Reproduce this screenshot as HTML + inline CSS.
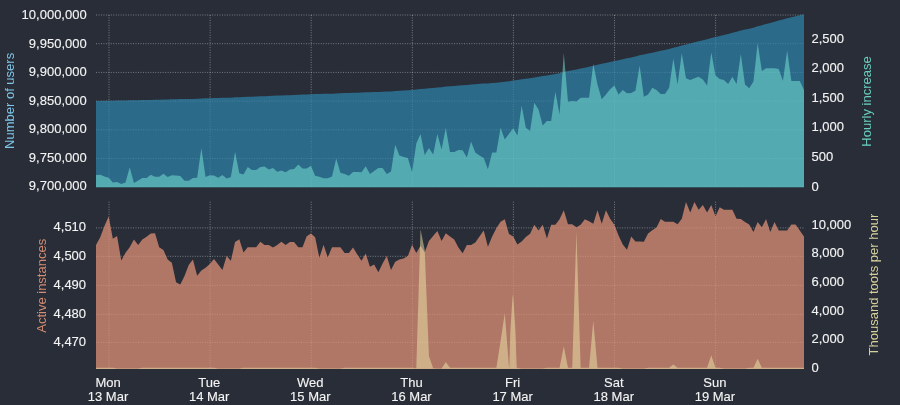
<!DOCTYPE html>
<html lang="en"><head><meta charset="utf-8"><title>Mastodon user count</title>
<style>
html,body{margin:0;padding:0;background:#282d37;}
body{width:900px;height:405px;overflow:hidden;}
svg{display:block;}
text{font-family:"Liberation Sans", Arial, sans-serif;font-size:13px;fill:#f4f4f4;stroke:#f4f4f4;stroke-width:0.12px;}
.g line{stroke:#ffffff;stroke-opacity:0.38;stroke-width:1;stroke-dasharray:1 1.47;}
</style></head><body>
<svg width="900" height="405" viewBox="0 0 900 405">
<rect x="0" y="0" width="900" height="405" fill="#282d37"/>
<defs><clipPath id="ct"><rect x="96.0" y="0" width="708.00" height="187.6"/></clipPath><clipPath id="cb"><rect x="96.0" y="201.7" width="708.00" height="167.30"/></clipPath></defs>
<g class="g">
<line x1="96.0" y1="15.00" x2="804.00" y2="15.00"/>
<line x1="96.0" y1="43.70" x2="804.00" y2="43.70"/>
<line x1="96.0" y1="72.40" x2="804.00" y2="72.40"/>
<line x1="96.0" y1="101.10" x2="804.00" y2="101.10"/>
<line x1="96.0" y1="129.80" x2="804.00" y2="129.80"/>
<line x1="96.0" y1="158.50" x2="804.00" y2="158.50"/>
<line x1="96.0" y1="186.1" x2="804.00" y2="186.1"/>
<line x1="109.00" y1="15.0" x2="109.00" y2="187.6"/>
<line x1="109.00" y1="201.7" x2="109.00" y2="369.0"/>
<line x1="210.10" y1="15.0" x2="210.10" y2="187.6"/>
<line x1="210.10" y1="201.7" x2="210.10" y2="369.0"/>
<line x1="311.20" y1="15.0" x2="311.20" y2="187.6"/>
<line x1="311.20" y1="201.7" x2="311.20" y2="369.0"/>
<line x1="412.30" y1="15.0" x2="412.30" y2="187.6"/>
<line x1="412.30" y1="201.7" x2="412.30" y2="369.0"/>
<line x1="513.40" y1="15.0" x2="513.40" y2="187.6"/>
<line x1="513.40" y1="201.7" x2="513.40" y2="369.0"/>
<line x1="614.50" y1="15.0" x2="614.50" y2="187.6"/>
<line x1="614.50" y1="201.7" x2="614.50" y2="369.0"/>
<line x1="715.60" y1="15.0" x2="715.60" y2="187.6"/>
<line x1="715.60" y1="201.7" x2="715.60" y2="369.0"/>
<line x1="96.0" y1="227.90" x2="804.00" y2="227.90"/>
<line x1="96.0" y1="256.30" x2="804.00" y2="256.30"/>
<line x1="96.0" y1="285.30" x2="804.00" y2="285.30"/>
<line x1="96.0" y1="314.30" x2="804.00" y2="314.30"/>
<line x1="96.0" y1="342.30" x2="804.00" y2="342.30"/>
</g>
<polygon clip-path="url(#ct)" fill="#2e85ad" fill-opacity="0.7" points="96.00,187.6 96.00,101.00 100.21,100.88 104.43,100.77 108.64,100.68 112.86,100.63 117.07,100.58 121.29,100.54 125.50,100.49 129.71,100.30 133.93,100.26 138.14,100.19 142.36,100.10 146.57,100.00 150.79,99.88 155.00,99.78 159.21,99.68 163.43,99.54 167.64,99.44 171.86,99.33 176.07,99.21 180.29,99.10 184.50,99.03 188.71,98.97 192.93,98.88 197.14,98.78 201.36,98.40 205.57,98.30 209.79,98.19 214.00,98.07 218.21,97.97 222.43,97.85 226.64,97.77 230.86,97.67 235.07,97.32 239.29,97.19 243.50,97.06 247.71,96.87 251.93,96.70 256.14,96.53 260.36,96.34 264.57,96.13 268.79,95.96 273.00,95.77 277.21,95.62 281.43,95.46 285.64,95.31 289.86,95.14 294.07,94.96 298.29,94.74 302.50,94.56 306.71,94.38 310.93,94.17 315.14,94.06 319.36,93.95 323.57,93.87 327.79,93.78 332.00,93.67 336.22,93.39 340.43,93.25 344.64,93.12 348.86,93.01 353.07,92.86 357.29,92.71 361.50,92.56 365.72,92.36 369.93,92.23 374.14,92.07 378.36,91.89 382.57,91.70 386.79,91.57 391.00,91.42 395.22,91.01 399.43,90.70 403.64,90.41 407.86,90.13 412.07,89.98 416.29,89.56 420.50,89.05 424.72,88.74 428.93,88.36 433.14,88.04 437.36,87.53 441.57,87.17 445.79,86.60 450.00,86.26 454.22,85.92 458.43,85.56 462.64,85.20 466.86,84.92 471.07,84.48 475.29,84.14 479.50,83.84 483.72,83.55 487.93,83.38 492.14,83.04 496.36,82.71 500.57,82.14 504.79,81.68 509.00,81.17 513.22,80.60 517.43,80.11 521.64,79.33 525.86,78.75 530.07,78.22 534.29,77.41 538.50,76.66 542.72,76.07 546.93,75.44 551.14,74.80 555.36,73.89 559.57,73.19 563.79,71.90 568.00,71.09 572.22,70.26 576.43,69.44 580.64,68.59 584.86,67.73 589.07,66.87 593.29,65.69 597.50,64.71 601.72,63.87 605.93,62.98 610.14,62.04 614.36,61.07 618.57,60.18 622.79,59.25 627.00,58.35 631.22,57.44 635.43,56.52 639.64,55.36 643.86,54.49 648.07,53.60 652.29,52.65 656.50,51.72 660.72,50.83 664.93,49.93 669.14,48.98 673.36,47.75 677.57,46.77 681.79,45.49 686.00,44.44 690.22,43.42 694.43,42.37 698.64,41.32 702.86,40.29 707.07,39.31 711.29,38.02 715.50,36.96 719.72,35.92 723.93,34.89 728.14,33.90 732.36,32.85 736.57,31.86 740.79,30.59 745.00,29.60 749.22,28.65 753.43,27.64 757.65,26.26 761.86,25.15 766.07,24.01 770.29,22.88 774.50,21.74 778.72,20.60 782.93,19.59 787.15,18.28 791.36,17.26 795.57,16.25 799.79,15.23 804.00,14.30 804.00,187.6"/>
<polygon clip-path="url(#ct)" fill="#7ae9d8" fill-opacity="0.5" points="96.00,187.6 96.00,175.00 100.21,174.80 104.43,176.50 108.64,177.80 112.86,182.50 117.07,182.00 121.29,184.00 125.50,182.50 129.71,167.20 133.93,183.00 138.14,180.50 142.36,178.00 146.57,178.00 150.79,174.80 155.00,176.80 159.21,176.80 163.43,173.80 167.64,177.00 171.86,175.20 176.07,175.40 180.29,176.00 184.50,180.80 188.71,180.70 192.93,178.00 197.14,177.70 201.36,148.00 205.57,177.00 209.79,175.20 214.00,175.40 218.21,177.70 222.43,175.00 226.64,178.50 230.86,177.00 235.07,151.70 239.29,173.30 243.50,174.60 247.71,167.00 251.93,170.00 256.14,170.00 260.36,167.00 264.57,166.40 268.79,169.50 273.00,168.10 277.21,171.70 281.43,170.60 285.64,172.30 289.86,169.40 294.07,169.00 298.29,164.40 302.50,168.40 306.71,168.60 310.93,165.70 315.14,175.80 319.36,176.80 323.57,178.30 327.79,178.30 332.00,176.40 336.22,158.50 340.43,172.70 344.64,174.00 348.86,175.80 353.07,172.10 357.29,171.90 361.50,172.30 365.72,166.20 369.93,174.00 374.14,171.00 378.36,168.00 382.57,168.00 386.79,174.10 391.00,171.40 395.22,144.80 399.43,155.60 403.64,157.00 407.86,158.10 412.07,172.00 416.29,143.40 420.50,134.10 424.72,155.00 428.93,147.90 433.14,154.50 437.36,134.10 441.57,149.50 445.79,127.80 450.00,151.90 454.22,151.90 458.43,149.90 462.64,150.30 466.86,157.40 471.07,141.60 475.29,152.50 479.50,155.40 483.72,158.00 487.93,169.30 492.14,152.50 496.36,152.50 500.57,127.80 504.79,139.60 509.00,133.70 513.22,128.30 517.43,135.60 521.64,105.60 525.86,127.80 530.07,131.00 534.29,102.70 538.50,109.60 542.72,125.60 546.93,121.10 551.14,121.10 555.36,91.80 559.57,114.40 563.79,52.70 568.00,101.80 572.22,101.10 576.43,101.60 580.64,97.80 584.86,97.80 589.07,97.80 593.29,63.80 597.50,84.40 601.72,99.30 605.93,94.40 610.14,89.20 614.36,85.60 618.57,94.40 622.79,90.00 627.00,93.30 631.22,92.90 635.43,90.70 639.64,65.60 643.86,96.70 648.07,94.40 652.29,87.80 656.50,90.00 660.72,94.00 664.93,94.00 669.14,87.80 673.36,58.40 677.57,84.40 681.79,53.30 686.00,78.20 690.22,80.00 694.43,78.20 698.64,76.70 702.86,79.60 707.07,85.60 711.29,52.20 715.50,75.60 719.72,78.90 723.93,80.00 728.14,84.00 732.36,76.70 736.57,84.00 740.79,54.00 745.00,84.40 749.22,88.20 753.43,81.60 757.65,42.90 761.86,71.10 766.07,68.20 770.29,68.20 774.50,68.20 778.72,68.90 782.93,80.70 787.15,50.40 791.36,81.10 795.57,81.10 799.79,81.10 804.00,90.00 804.00,187.6"/>
<polygon clip-path="url(#cb)" fill="#e9967a" fill-opacity="0.7" points="96.00,369.0 96.00,245.00 100.21,237.20 104.43,226.10 108.64,216.60 112.86,238.80 117.07,236.10 121.29,260.60 125.50,252.80 129.71,247.20 133.93,239.40 138.14,245.00 142.36,239.40 146.57,236.80 150.79,233.40 155.00,233.20 159.21,247.20 163.43,250.10 167.64,259.40 171.86,262.80 176.07,282.30 180.29,284.60 184.50,276.10 188.71,265.00 192.93,259.40 197.14,275.70 201.36,270.60 205.57,267.70 209.79,264.10 214.00,259.10 218.21,264.40 222.43,269.90 226.64,256.10 230.86,260.80 235.07,242.10 239.29,239.30 243.50,252.50 247.71,247.20 251.93,247.20 256.14,247.20 260.36,241.70 264.57,245.00 268.79,245.00 273.00,247.60 277.21,245.00 281.43,241.70 285.64,245.00 289.86,242.10 294.07,242.10 298.29,247.20 302.50,247.20 306.71,236.30 310.93,233.40 315.14,237.20 319.36,257.80 323.57,244.80 327.79,257.50 332.00,247.20 336.22,247.20 340.43,247.20 344.64,252.90 348.86,252.90 353.07,247.60 357.29,254.50 361.50,260.80 365.72,253.50 369.93,266.80 374.14,264.40 378.36,272.30 382.57,263.40 386.79,256.10 391.00,269.90 395.22,261.80 399.43,259.40 403.64,258.50 407.86,256.10 412.07,244.80 416.29,252.90 420.50,245.80 424.72,252.30 428.93,241.10 433.14,236.00 437.36,231.00 441.57,241.10 445.79,233.20 450.00,236.50 454.22,239.50 458.43,247.40 462.64,253.30 466.86,245.00 471.07,245.00 475.29,242.50 479.50,236.50 483.72,230.60 487.93,246.80 492.14,236.50 496.36,228.20 500.57,221.70 504.79,219.20 509.00,234.00 513.22,236.50 517.43,244.40 521.64,241.60 525.86,237.00 530.07,233.80 534.29,224.70 538.50,230.60 542.72,224.70 546.93,238.50 551.14,224.70 555.36,224.70 559.57,219.20 563.79,210.30 568.00,224.30 572.22,224.30 576.43,227.30 580.64,224.70 584.86,219.20 589.07,221.30 593.29,223.70 597.50,210.30 601.72,223.70 605.93,210.30 610.14,218.80 614.36,224.70 618.57,235.60 622.79,244.40 627.00,249.80 631.22,236.50 635.43,241.60 639.64,241.60 643.86,241.80 648.07,233.50 652.29,230.20 656.50,227.60 660.72,219.10 664.93,221.70 669.14,221.70 673.36,221.70 677.57,224.20 681.79,218.70 686.00,201.90 690.22,212.40 694.43,201.90 698.64,209.80 702.86,204.90 707.07,212.40 711.29,204.90 715.50,216.30 719.72,207.20 723.93,209.80 728.14,209.80 732.36,209.80 736.57,218.70 740.79,218.90 745.00,221.90 749.22,224.60 753.43,232.10 757.65,222.10 761.86,227.20 766.07,219.10 770.29,232.10 774.50,222.10 778.72,230.60 782.93,230.60 787.15,230.60 791.36,224.60 795.57,224.60 799.79,230.60 804.00,236.50 804.00,369.0"/>
<polygon clip-path="url(#cb)" fill="#eee8aa" fill-opacity="0.5" points="96.00,369.0 96.00,367.80 100.21,367.80 104.43,367.80 108.64,367.80 112.86,367.80 117.07,368.60 121.29,368.60 125.50,368.60 129.71,368.60 133.93,368.60 138.14,368.60 142.36,367.80 146.57,367.80 150.79,367.80 155.00,367.80 159.21,367.80 163.43,367.80 167.64,367.80 171.86,367.80 176.07,367.80 180.29,367.80 184.50,367.80 188.71,367.80 192.93,367.80 197.14,367.80 201.36,367.80 205.57,367.80 209.79,367.80 214.00,367.80 218.21,368.60 222.43,368.60 226.64,368.60 230.86,368.60 235.07,368.60 239.29,368.60 243.50,367.80 247.71,367.80 251.93,367.80 256.14,367.80 260.36,367.80 264.57,367.80 268.79,367.80 273.00,367.80 277.21,367.80 281.43,367.80 285.64,367.80 289.86,367.80 294.07,367.80 298.29,367.80 302.50,367.80 306.71,367.80 310.93,367.80 315.14,367.80 319.36,368.60 323.57,368.60 327.79,368.60 332.00,368.60 336.22,368.60 340.43,368.60 344.64,367.80 348.86,367.80 353.07,367.80 357.29,367.80 361.50,367.80 365.72,367.80 369.93,367.80 374.14,367.80 378.36,367.80 382.57,367.80 386.79,367.80 391.00,367.80 395.22,367.80 399.43,367.80 403.64,367.80 407.86,367.80 412.07,367.80 416.29,368.30 420.50,229.20 424.72,250.00 428.93,356.00 433.14,368.30 437.36,368.60 441.57,368.60 445.79,362.00 450.00,367.80 454.22,367.80 458.43,367.80 462.64,367.80 466.86,367.80 471.07,367.80 475.29,367.80 479.50,367.80 483.72,367.80 487.93,367.80 492.14,367.80 496.36,367.80 500.57,341.00 504.79,313.30 509.00,367.00 509.30,367.50 510.30,332.00 510.70,325.00 511.40,315.00 511.90,306.00 512.55,297.00 512.90,294.50 513.25,297.00 513.90,306.00 514.40,315.00 515.10,325.00 515.50,332.00 516.70,367.50 517.43,368.00 521.64,368.60 525.86,368.60 530.07,368.60 534.29,368.60 538.50,368.60 542.72,368.60 546.93,367.80 551.14,367.80 555.36,367.80 559.57,367.80 563.79,346.30 568.00,367.80 572.22,367.80 576.43,231.00 580.64,367.80 584.86,367.80 589.07,367.80 593.29,320.40 597.50,367.80 601.72,367.80 605.93,367.80 610.14,367.80 614.36,367.80 618.57,367.80 622.79,368.60 627.00,368.60 631.22,368.60 635.43,368.60 639.64,368.60 643.86,368.60 648.07,367.80 652.29,367.80 656.50,367.80 660.72,367.80 664.93,367.80 669.14,367.80 673.36,364.50 677.57,367.80 681.79,367.80 686.00,367.80 690.22,367.80 694.43,367.80 698.64,367.80 702.86,367.80 707.07,367.80 711.29,355.20 715.50,367.80 719.72,367.80 723.93,368.60 728.14,368.60 732.36,368.60 736.57,368.60 740.79,368.60 745.00,368.60 749.22,367.80 753.43,367.80 757.65,358.70 761.86,367.80 766.07,367.80 770.29,367.80 774.50,367.80 778.72,367.80 782.93,367.80 787.15,367.80 791.36,367.80 795.57,367.80 799.79,367.80 804.00,367.80 804.00,369.0"/>
<text x="86.7" y="19.05" text-anchor="end">10,000,000</text>
<text x="86.7" y="47.61" text-anchor="end">9,950,000</text>
<text x="86.7" y="76.17" text-anchor="end">9,900,000</text>
<text x="86.7" y="104.73" text-anchor="end">9,850,000</text>
<text x="86.7" y="133.29" text-anchor="end">9,800,000</text>
<text x="86.7" y="161.85" text-anchor="end">9,750,000</text>
<text x="86.7" y="190.41" text-anchor="end">9,700,000</text>
<text x="811.5" y="42.60">2,500</text>
<text x="811.5" y="72.22">2,000</text>
<text x="811.5" y="101.84">1,500</text>
<text x="811.5" y="131.46">1,000</text>
<text x="811.5" y="161.08">500</text>
<text x="811.5" y="190.70">0</text>
<text x="86.1" y="231.40" text-anchor="end">4,510</text>
<text x="86.1" y="260.00" text-anchor="end">4,500</text>
<text x="86.1" y="288.80" text-anchor="end">4,490</text>
<text x="86.1" y="317.70" text-anchor="end">4,480</text>
<text x="86.1" y="345.90" text-anchor="end">4,470</text>
<text x="811.5" y="228.80">10,000</text>
<text x="811.5" y="257.42">8,000</text>
<text x="811.5" y="286.04">6,000</text>
<text x="811.5" y="314.66">4,000</text>
<text x="811.5" y="343.28">2,000</text>
<text x="811.5" y="371.90">0</text>
<text x="108.04" y="386.6" text-anchor="middle">Mon</text>
<text x="108.04" y="401.3" text-anchor="middle">13 Mar</text>
<text x="209.19" y="386.6" text-anchor="middle">Tue</text>
<text x="209.19" y="401.3" text-anchor="middle">14 Mar</text>
<text x="310.33" y="386.6" text-anchor="middle">Wed</text>
<text x="310.33" y="401.3" text-anchor="middle">15 Mar</text>
<text x="411.47" y="386.6" text-anchor="middle">Thu</text>
<text x="411.47" y="401.3" text-anchor="middle">16 Mar</text>
<text x="512.62" y="386.6" text-anchor="middle">Fri</text>
<text x="512.62" y="401.3" text-anchor="middle">17 Mar</text>
<text x="613.76" y="386.6" text-anchor="middle">Sat</text>
<text x="613.76" y="401.3" text-anchor="middle">18 Mar</text>
<text x="714.90" y="386.6" text-anchor="middle">Sun</text>
<text x="714.90" y="401.3" text-anchor="middle">19 Mar</text>
<text transform="translate(14.0,100.9) rotate(-90)" text-anchor="middle" style="fill:#7dc6e8;stroke:none">Number of users</text>
<text transform="translate(871.0,101.5) rotate(-90)" text-anchor="middle" style="fill:#69cfc0;stroke:none">Hourly increase</text>
<text transform="translate(46.0,285.8) rotate(-90)" text-anchor="middle" style="fill:#d38b72;stroke:none">Active instances</text>
<text transform="translate(878.4,284.6) rotate(-90)" text-anchor="middle" style="fill:#d6d19b;stroke:none">Thousand toots per hour</text>
</svg></body></html>
